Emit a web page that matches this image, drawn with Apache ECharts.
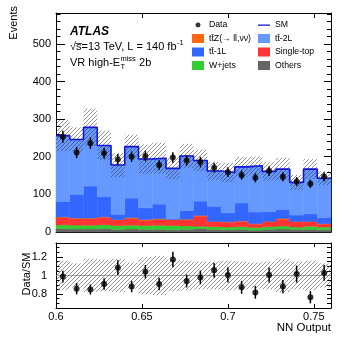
<!DOCTYPE html>
<html>
<head>
<meta charset="utf-8">
<script src="https://cdn.jsdelivr.net/npm/echarts@6/dist/echarts.min.js"></script>
<style>
  html, body { margin: 0; padding: 0; background: #fff; }
  #chart { width: 349px; height: 340px; }
</style>
</head>
<body>
<div id="chart"></div>
<script>
// NN output bins (edges)
var binEdges = [0.600, 0.608, 0.616, 0.624, 0.632, 0.640, 0.648, 0.656, 0.664, 0.672, 0.680,
                0.688, 0.696, 0.704, 0.712, 0.720, 0.728, 0.736, 0.744, 0.752, 0.760];

// background components, stacked bottom -> top
var others    = [9, 8, 8, 9, 7, 8, 7, 7, 6, 7, 9, 7, 6, 7, 5, 7, 8, 7, 7, 6];
var wjets     = [10, 10, 10, 10, 10, 10, 10, 11, 11, 9, 6, 7, 7, 7, 7, 7, 8, 6, 8, 7];
var singleTop = [19, 17, 17, 19, 15, 18, 14, 15, 15, 16, 27, 13, 13, 13, 9, 13, 18, 14, 12, 8];
var ttZ       = [2, 2, 2, 2, 1, 2, 2, 2, 1, 2, 2, 1, 1, 2, 1, 1, 2, 1, 1, 1];
var tt1L      = [41, 63, 85, 54, 14, 52, 31, 39, 2, 23, 38, 40, 24, 48, 31, 26, 24, 17, 20, 16];
var tt2L      = [175, 146, 156, 136, 131, 137, 130, 122, 134, 145, 108, 94, 107, 96, 123, 107, 107, 87, 119, 105];

// observed data and its error
var dataVals = [253, 211, 236, 209, 193, 200, 202, 178, 198, 190, 186, 171, 159, 151, 144, 162, 147, 134, 128, 147];
var dataErr  = [16, 15, 15, 14, 14, 14, 14, 13, 14, 14, 14, 13, 13, 12, 12, 13, 12, 12, 11, 12];

// relative uncertainty on SM (hatched band)
var smRelUnc = [0.16, 0.13, 0.18, 0.17, 0.18, 0.14, 0.20, 0.21, 0.17, 0.16,
                0.15, 0.15, 0.16, 0.15, 0.14, 0.15, 0.18, 0.15, 0.16, 0.13];

var ratioLabels = [0.8, 1, 1.2];

var FONT = '"Liberation Sans", Arial, Helvetica, sans-serif';
var TT = 't\u0074\u0304';

var comps = [
  { name: 'Others', vals: others, color: '#666666' },
  { name: 'W+jets', vals: wjets, color: '#33cc33' },
  { name: 'Single-top', vals: singleTop, color: '#ff3333' },
  { name: TT + 'Z(\u2192 ll,\u03bd\u03bd)', vals: ttZ, color: '#ff6611' },
  { name: TT + '-1L', vals: tt1L, color: '#3366ff' },
  { name: TT + '-2L', vals: tt2L, color: '#6699ff' }
];

var nBins = dataVals.length;
var base = new Array(nBins).fill(0);
comps.forEach(function (c) {
  c.boxes = c.vals.map(function (v, i) {
    var b = [binEdges[i], binEdges[i + 1], base[i], base[i] + v];
    base[i] += v;
    return b;
  });
});
var sm = base.slice();

var centers = dataVals.map(function (v, i) { return (binEdges[i] + binEdges[i + 1]) / 2; });
var smLine = [];
sm.forEach(function (v, i) { smLine.push([binEdges[i], v]); smLine.push([binEdges[i + 1], v]); });
var smBand = sm.map(function (v, i) { return [binEdges[i], binEdges[i + 1], v * (1 - smRelUnc[i]), v * (1 + smRelUnc[i])]; });
var ratioBand = sm.map(function (v, i) { return [binEdges[i], binEdges[i + 1], 1 - smRelUnc[i], 1 + smRelUnc[i]]; });
var dataPts = dataVals.map(function (v, i) { return [centers[i], v, dataErr[i]]; });
var ratioPts = dataVals.map(function (v, i) { return [centers[i], v / sm[i], dataErr[i] / sm[i]]; });

function makeHatch() {
  var c = document.createElement('canvas');
  c.width = 4; c.height = 4;
  var g = c.getContext('2d');
  g.strokeStyle = 'rgba(50,50,50,0.75)';
  g.lineWidth = 0.7;
  g.beginPath();
  g.moveTo(0, 4); g.lineTo(4, 0);
  g.moveTo(-1, 1); g.lineTo(1, -1);
  g.moveTo(3, 5); g.lineTo(5, 3);
  g.stroke();
  return c;
}
var hatch = { image: makeHatch(), repeat: 'repeat' };

function boxItem(params, api) {
  var a = api.coord([api.value(0), api.value(3)]);
  var b = api.coord([api.value(1), api.value(2)]);
  var col = api.visual('color');
  return { type: 'rect', shape: { x: a[0], y: a[1], width: b[0] - a[0], height: b[1] - a[1] },
           style: { fill: col, stroke: col, lineWidth: 0.5 } };
}
function bandItem(params, api) {
  var a = api.coord([api.value(0), api.value(3)]);
  var b = api.coord([api.value(1), api.value(2)]);
  return { type: 'rect', shape: { x: a[0], y: a[1], width: b[0] - a[0], height: b[1] - a[1] },
           style: { fill: hatch } };
}
function errItem(params, api) {
  var lo = api.coord([api.value(0), api.value(1) - api.value(2)]);
  var hi = api.coord([api.value(0), api.value(1) + api.value(2)]);
  return { type: 'line', shape: { x1: lo[0], y1: lo[1], x2: hi[0], y2: hi[1] },
           style: { stroke: '#000', lineWidth: 1.5 } };
}

var mctx = document.createElement('canvas').getContext('2d');
function textW(str, font) { mctx.font = font; return mctx.measureText(str).width; }

var series = [];
comps.forEach(function (c) {
  series.push({ name: c.name, type: 'custom', xAxisIndex: 0, yAxisIndex: 0, renderItem: boxItem,
                itemStyle: { color: c.color }, data: c.boxes, z: 1, silent: true });
});
series.push({ name: 'band', type: 'custom', xAxisIndex: 0, yAxisIndex: 0, renderItem: bandItem,
              data: smBand, z: 2, silent: true });
series.push({ name: 'SM', type: 'line', xAxisIndex: 0, yAxisIndex: 0, data: smLine, symbol: 'none',
              color: '#1414d2', lineStyle: { color: '#1414d2', width: 1.6 }, z: 3, silent: true });
series.push({ name: 'dataErr', type: 'custom', xAxisIndex: 0, yAxisIndex: 0, renderItem: errItem,
              data: dataPts, z: 4, silent: true });
series.push({ name: 'Data', type: 'scatter', xAxisIndex: 0, yAxisIndex: 0, data: dataPts,
              symbolSize: 6, itemStyle: { color: '#000' }, z: 5, silent: true });

series.push({ name: 'unity', type: 'line', xAxisIndex: 2, yAxisIndex: 2, data: [[0.6, 1], [0.76, 1]],
              symbol: 'none', lineStyle: { color: '#aaaaaa', width: 1 }, z: 1, silent: true });
series.push({ name: 'ratioBand', type: 'custom', xAxisIndex: 2, yAxisIndex: 2, renderItem: bandItem,
              data: ratioBand, z: 2, silent: true });
series.push({ name: 'ratioErr', type: 'custom', xAxisIndex: 2, yAxisIndex: 2, renderItem: errItem,
              data: ratioPts, z: 4, silent: true });
series.push({ name: 'ratio', type: 'scatter', xAxisIndex: 2, yAxisIndex: 2, data: ratioPts,
              symbolSize: 6, itemStyle: { color: '#000' }, z: 5, silent: true });

var lineStyleBlack = { color: '#000', width: 1 };
function xAx(grid, pos, labels, tickLen) {
  return {
    type: 'value', gridIndex: grid, position: pos, min: 0.6, max: 0.76, interval: 0.05,
    axisLine: { show: true, onZero: false, lineStyle: lineStyleBlack },
    axisTick: { show: true, inside: true, length: tickLen, lineStyle: lineStyleBlack },
    axisLabel: { show: labels, showMaxLabel: false, margin: 3, fontSize: 11, fontFamily: FONT, color: '#000',
                 formatter: function (v) { return String(+v.toFixed(2)); } },
    splitLine: { show: false }
  };
}

var f11 = '11px ' + FONT;
var f7 = '7.5px ' + FONT;
var vrX = 70, vrY = 63;
var wVR = textW('VR high-E', f11);
var wMiss = textW('miss', f7);
var lumiText = '\u221as\u0305=13 TeV, L = 140 fb';
var wLumi = textW(lumiText, f11);

var dotIcon = 'path://M0,0L0.01,0Z M12,9L12.01,9Z M3.5,4.5A2.5,2.5,0,1,1,8.5,4.5A2.5,2.5,0,1,1,3.5,4.5Z';
var lineIcon = 'path://M0,0L0.01,0Z M12,9L12.01,9Z M0,3.9L12,3.9L12,5.2L0,5.2Z';
var legendText = { fontSize: 8.7, fontFamily: FONT, color: '#000', lineHeight: 9 };

var option = {
  animation: false,
  backgroundColor: '#fff',
  grid: [
    { left: 56, top: 13, width: 275, height: 219, show: false },
    { left: 56, top: 243, width: 275, height: 65, show: false }
  ],
  legend: [
    { left: 192, top: 20.5, orient: 'vertical', itemWidth: 12, itemHeight: 9, itemGap: 4.5, padding: 0,
      icon: 'rect', selectedMode: false, textStyle: legendText,
      data: [{ name: 'Data', icon: dotIcon }, comps[3].name, comps[4].name, comps[1].name] },
    { left: 258, top: 20.5, orient: 'vertical', itemWidth: 12, itemHeight: 9, itemGap: 4.5, padding: 0,
      icon: 'rect', selectedMode: false, textStyle: legendText,
      data: [{ name: 'SM', icon: lineIcon }, comps[5].name, comps[2].name, comps[0].name] }
  ],
  xAxis: [
    xAx(0, 'bottom', false, 5),
    xAx(0, 'top', false, 5),
    xAx(1, 'bottom', true, 4),
    xAx(1, 'top', false, 4)
  ],
  yAxis: [
    { type: 'value', gridIndex: 0, position: 'left', min: 0, max: 582, interval: 100,
      axisLine: { show: true, lineStyle: lineStyleBlack },
      axisTick: { show: true, inside: true, length: 9, lineStyle: lineStyleBlack },
      minorTick: { show: true, splitNumber: 5, length: 4.5, lineStyle: lineStyleBlack },
      axisLabel: { showMaxLabel: false, margin: 5, fontSize: 11, fontFamily: FONT, color: '#000' },
      splitLine: { show: false } },
    { type: 'value', gridIndex: 0, position: 'right', min: 0, max: 582, interval: 100,
      axisLine: { show: true, lineStyle: lineStyleBlack },
      axisTick: { show: true, inside: true, length: 7, lineStyle: lineStyleBlack },
      minorTick: { show: true, splitNumber: 5, length: 4, lineStyle: lineStyleBlack },
      axisLabel: { show: false }, splitLine: { show: false } },
    { type: 'value', gridIndex: 1, position: 'left', min: 0.65, max: 1.35, interval: 0.05,
      axisLine: { show: true, lineStyle: lineStyleBlack },
      axisTick: { show: true, inside: true, length: 3.5, lineStyle: lineStyleBlack },
      axisLabel: { margin: 9, fontSize: 11, fontFamily: FONT, color: '#000',
                   formatter: function (v) {
                     for (var k = 0; k < ratioLabels.length; k++) {
                       if (Math.abs(v - ratioLabels[k]) < 1e-6) return String(ratioLabels[k]);
                     }
                     return '';
                   } },
      splitLine: { show: false } },
    { type: 'value', gridIndex: 1, position: 'left', min: 0.65, max: 1.35,
      axisLine: { show: false },
      axisTick: { show: true, inside: true, length: 7, customValues: ratioLabels, lineStyle: lineStyleBlack },
      axisLabel: { show: false }, splitLine: { show: false } },
    { type: 'value', gridIndex: 1, position: 'right', min: 0.65, max: 1.35, interval: 0.05,
      axisLine: { show: true, lineStyle: lineStyleBlack },
      axisTick: { show: true, inside: true, length: 4, lineStyle: lineStyleBlack },
      axisLabel: { show: false }, splitLine: { show: false } }
  ],
  graphic: [
    { type: 'text', x: 70, y: 32, style: { text: 'ATLAS', font: 'italic bold 12px ' + FONT, fill: '#000', verticalAlign: 'middle' } },
    { type: 'text', x: 70, y: 47, style: { text: lumiText, font: f11, fill: '#000', verticalAlign: 'middle' } },
    { type: 'text', x: 70 + wLumi + 0.5, y: 43, style: { text: '-1', font: f7, fill: '#000', verticalAlign: 'middle' } },
    { type: 'text', x: vrX, y: vrY, style: { text: 'VR high-E', font: f11, fill: '#000', verticalAlign: 'middle' } },
    { type: 'text', x: vrX + wVR + 0.3, y: vrY - 4, style: { text: 'miss', font: f7, fill: '#000', verticalAlign: 'middle' } },
    { type: 'text', x: vrX + wVR + 0.3, y: vrY + 4, style: { text: 'T', font: f7, fill: '#000', verticalAlign: 'middle' } },
    { type: 'text', x: vrX + wVR + wMiss + 0.5, y: vrY, style: { text: ' 2b', font: f11, fill: '#000', verticalAlign: 'middle' } },
    { type: 'text', x: 14, y: 6, rotation: Math.PI / 2,
      style: { text: 'Events', font: f11, fill: '#000', align: 'right', verticalAlign: 'middle' } },
    { type: 'text', x: 27, y: 274, rotation: Math.PI / 2,
      style: { text: 'Data/SM', font: f11, fill: '#000', align: 'center', verticalAlign: 'middle' } },
    { type: 'text', x: 331, y: 328,
      style: { text: 'NN Output', font: '11.5px ' + FONT, fill: '#000', align: 'right', verticalAlign: 'middle' } }
  ],
  series: series
};

var chart = echarts.init(document.getElementById('chart'), null, { renderer: 'canvas' });
chart.setOption(option);
</script>
</body>
</html>
